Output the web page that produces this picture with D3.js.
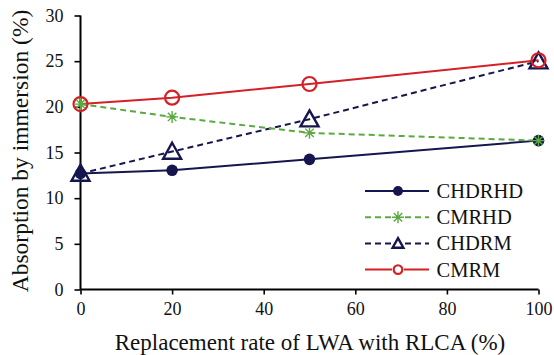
<!DOCTYPE html>
<html>
<head>
<meta charset="utf-8">
<script src="https://cdn.jsdelivr.net/npm/d3@7"></script>
<style>
  html, body { margin: 0; padding: 0; background: #fff; }
</style>
</head>
<body>
<svg id="chart" width="554" height="355" font-family="'Times New Roman', Times, 'Liberation Serif', 'DejaVu Serif', serif"></svg>
<script>
// Replacement rate (%) on the x axis
const rates = [0, 20, 50, 100];

// Absorption by immersion (%) for each mix
const chdrhd = [12.7, 13.05, 14.25, 16.3];
const cmrhd  = [20.3, 18.9, 17.15, 16.3];
const chdrm  = [12.7, 15.1, 18.65, 25.0];
const cmrm   = [20.3, 21.0, 22.5, 25.1];

const xTicks = [0, 20, 40, 60, 80, 100];
const yTicks = [0, 5, 10, 15, 20, 25, 30];

const serif = "'Times New Roman', Times, 'Liberation Serif', 'DejaVu Serif', serif";
const navy = "#16164f";
const green = "#5aaa40";
const red = "#d42127";

const series = [
  { name: "CHDRM",  values: chdrm,  color: navy,  dash: "6,4", marker: "triangle" },
  { name: "CHDRHD", values: chdrhd, color: navy,  dash: null,  marker: "dot" },
  { name: "CMRM",   values: cmrm,   color: red,   dash: null,  marker: "ring" },
  { name: "CMRHD",  values: cmrhd,  color: green, dash: "6,4", marker: "star" }
];
const legendOrder = ["CHDRHD", "CMRHD", "CHDRM", "CMRM"];

const svg = d3.select("#chart");
const x = d3.scaleLinear().domain([0, 100]).range([80.5, 538.5]);
const y = d3.scaleLinear().domain([0, 30]).range([289.5, 15.5]);

// Axes
const xAxis = svg.append("g").attr("transform", "translate(0,289.5)")
  .call(d3.axisBottom(x).tickValues(xTicks).tickSize(5).tickPadding(8));
const yAxis = svg.append("g").attr("transform", "translate(80.5,0)")
  .call(d3.axisLeft(y).tickValues(yTicks).tickSize(6).tickPadding(11));
[xAxis, yAxis].forEach(a => {
  a.attr("font-family", serif).attr("font-size", 18);
  a.select(".domain").attr("stroke", "#000").attr("stroke-width", 2);
  a.selectAll(".tick line").attr("stroke", "#000").attr("stroke-width", 1.6);
  a.selectAll(".tick text").attr("fill", "#111");
});
xAxis.selectAll(".domain").attr("d", `M${x(0)},0H${x(100)}`);
yAxis.selectAll(".domain").attr("d", `M0,${y(0)}V${y(30)}`);

// Axis titles
svg.append("text").attr("x", 310).attr("y", 350).attr("text-anchor", "middle")
  .attr("font-family", serif).attr("font-size", 23).attr("fill", "#111")
  .text("Replacement rate of LWA with RLCA (%)");
svg.append("text").attr("transform", "translate(28,151) rotate(-90)")
  .attr("text-anchor", "middle").attr("font-family", serif).attr("font-size", 23.5)
  .attr("fill", "#111").text("Absorption by immersion (%)");

function drawMarker(g, type, color, s) {
  if (type === "dot") {
    g.append("circle").attr("r", 5.8 * s).attr("fill", color);
  } else if (type === "ring") {
    g.append("circle").attr("r", 7 * s).attr("fill", "none")
      .attr("stroke", color).attr("stroke-width", 2.2);
  } else if (type === "triangle") {
    const h = 16 * s, w = 18 * s;
    g.append("path")
      .attr("d", `M0,${-h * 0.55}L${w / 2},${h * 0.45}L${-w / 2},${h * 0.45}Z`)
      .attr("fill", "none").attr("stroke", color).attr("stroke-width", 2.4);
  } else if (type === "star") {
    const r = 6 * s;
    const p = [];
    for (let i = 0; i < 4; i++) {
      const a = i * Math.PI / 4;
      p.push(`M${-r * Math.cos(a)},${-r * Math.sin(a)}L${r * Math.cos(a)},${r * Math.sin(a)}`);
    }
    g.append("path").attr("d", p.join("")).attr("stroke", color).attr("stroke-width", 1.4);
  }
}

const line = d3.line().x(d => x(d[0])).y(d => y(d[1]));

series.forEach(s => {
  const pts = rates.map((r, i) => [r, s.values[i]]);
  svg.append("path").datum(pts).attr("d", line).attr("fill", "none")
    .attr("stroke", s.color).attr("stroke-width", 2)
    .attr("stroke-dasharray", s.dash);
});
series.forEach(s => {
  rates.forEach((r, i) => {
    const g = svg.append("g").attr("transform", `translate(${x(r)},${y(s.values[i])})`);
    drawMarker(g, s.marker, s.color, 1);
  });
});

// Legend
const legendScale = { dot: 0.85, star: 1, triangle: 0.6, ring: 0.62 };
const lg = svg.append("g");
legendOrder.forEach((name, i) => {
  const s = series.find(d => d.name === name);
  const yy = 191 + i * 26.2;
  lg.append("line").attr("x1", 365).attr("x2", 429).attr("y1", yy).attr("y2", yy)
    .attr("stroke", s.color).attr("stroke-width", 2).attr("stroke-dasharray", s.dash);
  const g = lg.append("g").attr("transform", `translate(398,${yy})`);
  if (s.marker !== "dot") {
    g.append("rect").attr("x", -6).attr("y", -6).attr("width", 12).attr("height", 12).attr("fill", "#fff");
  }
  drawMarker(g, s.marker, s.color, legendScale[s.marker]);
  lg.append("text").attr("x", 436.5).attr("y", yy + 7)
    .attr("font-family", serif).attr("font-size", 20.5).attr("fill", "#111").text(name);
});
</script>
</body>
</html>
